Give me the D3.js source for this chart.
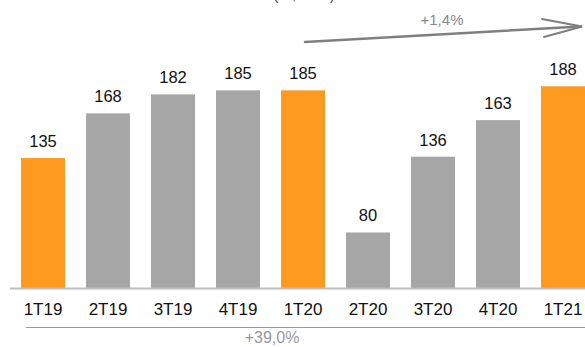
<!DOCTYPE html>
<html>
<head>
<meta charset="utf-8">
<script src="https://cdn.jsdelivr.net/npm/d3@7"></script>
<style>
  body { margin: 0; background: #fff; }
  svg { display: block; font-family: "Liberation Sans", Arial, sans-serif; }
</style>
</head>
<body>
<div id="chart"></div>
<script>
// data
const quarters = ["1T19", "2T19", "3T19", "4T19", "1T20", "2T20", "3T20", "4T20", "1T21"];
const values = [135, 168, 182, 185, 185, 80, 136, 163, 188];
const highlighted = ["1T19", "1T20", "1T21"];
const unitLabel = "(R$ MM)";
const growthQoQ = "+1,4%";
const growthYoY = "+39,0%";

const width = 585, height = 347;
const baseY = 288;

const svg = d3.select("#chart").append("svg")
  .attr("width", width)
  .attr("height", height);

const x = d3.scaleBand()
  .domain(quarters)
  .range([10.5, 595.5])
  .paddingInner(0.323)
  .paddingOuter(0.1615);

// axis doesn't start at zero in the original
const y = d3.scaleLinear()
  .domain([39, 188])
  .range([baseY, 86.3]);

const orange = "#fd9a1f", grey = "#a6a6a6";

// title is cut off at the top edge, like in the original
svg.append("text")
  .attr("x", 304).attr("y", 0)
  .attr("text-anchor", "middle")
  .style("font-size", "16px")
  .style("fill", "#555")
  .text(unitLabel);

// bars
svg.selectAll(".bar")
  .data(quarters)
  .enter().append("rect")
  .attr("class", "bar")
  .attr("x", d => x(d))
  .attr("width", x.bandwidth())
  .attr("y", (d, i) => y(values[i]))
  .attr("height", (d, i) => baseY - y(values[i]))
  .attr("fill", d => highlighted.includes(d) ? orange : grey);

// value labels
svg.selectAll(".val")
  .data(quarters)
  .enter().append("text")
  .attr("class", "val")
  .attr("x", d => x(d) + x.bandwidth() / 2)
  .attr("y", (d, i) => y(values[i]) - 11)
  .attr("text-anchor", "middle")
  .style("font-size", "16.5px")
  .style("fill", "#111")
  .text((d, i) => values[i]);

// baseline
svg.append("line")
  .attr("x1", 10).attr("x2", width)
  .attr("y1", baseY + 0.5).attr("y2", baseY + 0.5)
  .attr("stroke", "#c0c0c0")
  .attr("stroke-width", 2);

// category axis
const xAxis = svg.append("g")
  .attr("transform", "translate(0," + baseY + ")")
  .call(d3.axisBottom(x).tickSize(0).tickPadding(15));
xAxis.select(".domain").remove();
xAxis.selectAll("text")
  .style("font-size", "17px")
  .style("font-family", "'Liberation Sans', Arial, sans-serif")
  .attr("fill", "#111");

// yoy line + label
svg.append("line")
  .attr("x1", 26).attr("x2", width)
  .attr("y1", 327.5).attr("y2", 327.5)
  .attr("stroke", "#999")
  .attr("stroke-width", 1);

svg.append("text")
  .attr("x", 272).attr("y", 343)
  .attr("text-anchor", "middle")
  .style("font-size", "16px")
  .style("fill", "#999")
  .text(growthYoY);

// qoq arrow
const arrow = svg.append("g")
  .attr("stroke", "#7f7f7f")
  .attr("fill", "none")
  .attr("stroke-linecap", "round");
arrow.append("line")
  .attr("x1", 305).attr("y1", 42)
  .attr("x2", 581).attr("y2", 26.5)
  .attr("stroke-width", 2.5);
arrow.append("path")
  .attr("d", "M542,19 L582,26.5 L544,37")
  .attr("stroke-width", 2);

svg.append("text")
  .attr("x", 442).attr("y", 25)
  .attr("text-anchor", "middle")
  .style("font-size", "15px")
  .style("fill", "#888")
  .text(growthQoQ);
</script>
</body>
</html>
